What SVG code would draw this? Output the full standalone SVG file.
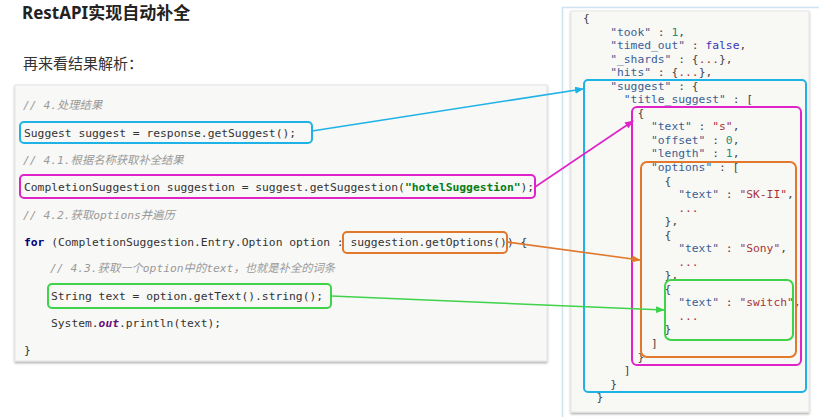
<svg xmlns="http://www.w3.org/2000/svg" width="819" height="417" viewBox="0 0 819 417">
<defs>
<marker id="ah-cyan" markerWidth="9" markerHeight="7" refX="8" refY="3.5" orient="auto" markerUnits="userSpaceOnUse"><path d="M0,0 L9,3.5 L0,7 z" fill="#1fb2e6"/></marker>
<marker id="ah-mag" markerWidth="9" markerHeight="7" refX="8" refY="3.5" orient="auto" markerUnits="userSpaceOnUse"><path d="M0,0 L9,3.5 L0,7 z" fill="#e023c9"/></marker>
<marker id="ah-org" markerWidth="9" markerHeight="7" refX="8" refY="3.5" orient="auto" markerUnits="userSpaceOnUse"><path d="M0,0 L9,3.5 L0,7 z" fill="#e2782c"/></marker>
<marker id="ah-grn" markerWidth="9" markerHeight="7" refX="8" refY="3.5" orient="auto" markerUnits="userSpaceOnUse"><path d="M0,0 L9,3.5 L0,7 z" fill="#3fd34a"/></marker>
<filter id="sh" x="-5%" y="-5%" width="110%" height="110%"><feDropShadow dx="0" dy="1.5" stdDeviation="1" flood-color="#000" flood-opacity="0.35"/></filter>
</defs>
<style>
.h1{font-family:"Noto Sans","Noto Sans CJK SC",sans-serif;font-weight:bold;font-size:17px;fill:#222}
.h2{font-family:"Noto Sans","Noto Sans CJK SC",sans-serif;font-size:15px;fill:#333}
.code{font-family:"DejaVu Sans Mono","Noto Sans CJK SC",monospace;font-size:11.3px;fill:#333}
.cm{fill:#9a9a9a;font-style:italic}
.kw{fill:#000080;font-weight:bold}
.st{fill:#067d17;font-weight:bold}
.out{fill:#660e7a;font-weight:bold;font-style:italic}
.k{fill:#3a5f94}
.n{fill:#1a8f7a}
.b{fill:#3535b5}
.s{fill:#a8343a}
.p{fill:#444}
.hl{fill:none;stroke-width:2}
.cy{stroke:#1fb2e6}
.mg{stroke:#e023c9}
.or{stroke:#e2782c}
.gr{stroke:#3fd34a}
.conn{fill:none;stroke-width:1.6}
</style>
<rect width="819" height="417" fill="#ffffff"/>
<g id="title">
<text class="h1" x="22" y="19">RestAPI实现自动补全</text>
<text class="h2" x="23" y="69">再来看结果解析：</text>
</g>
<g id="code-panel">
<rect x="15" y="85" width="532" height="276" fill="#f8f8f6" stroke="#e4e4e4" stroke-width="1" filter="url(#sh)"/>
<g class="code">
<text x="23" y="109" class="cm">// 4.处理结果</text>
<text x="24" y="137">Suggest suggest = response.getSuggest();</text>
<text x="23" y="164" class="cm">// 4.1.根据名称获取补全结果</text>
<text x="24" y="191">CompletionSuggestion suggestion = suggest.getSuggestion(<tspan class="st">"hotelSuggestion"</tspan>);</text>
<text x="23" y="219" class="cm">// 4.2.获取options并遍历</text>
<text x="24" y="246"><tspan class="kw">for</tspan> (CompletionSuggestion.Entry.Option option : suggestion.getOptions()) {</text>
<text x="50" y="272" class="cm">// 4.3.获取一个option中的text，也就是补全的词条</text>
<text x="51" y="300">String text = option.getText().string();</text>
<text x="51" y="327">System.<tspan class="out">out</tspan>.println(text);</text>
<text x="24" y="354">}</text>
</g>
</g>
<g id="hl-getSuggest"><rect class="hl cy" x="20" y="122" width="292" height="21" rx="4"/></g>
<g id="hl-getSuggestion"><rect class="hl mg" x="20" y="175" width="515" height="23" rx="4"/></g>
<g id="hl-getOptions"><rect class="hl or" x="343" y="232" width="164" height="21" rx="4"/></g>
<g id="hl-getText"><rect class="hl gr" x="48" y="284" width="283" height="24" rx="4"/></g>
<g id="json-panel">
<rect x="562.5" y="7.5" width="262" height="415" fill="#ffffff" stroke="#cfe2f1" stroke-width="1.5"/>
<rect x="571" y="11" width="238" height="401" fill="#f8f8f5" stroke="#e6e6e6" stroke-width="1" filter="url(#sh)"/>
<g class="code p">
<text x="583" y="22">{</text>
<text x="610.2" y="35.5"><tspan class="k">"took"</tspan> : <tspan class="n">1</tspan>,</text>
<text x="610.2" y="49.1"><tspan class="k">"timed_out"</tspan> : <tspan class="b">false</tspan>,</text>
<text x="610.2" y="62.6"><tspan class="k">"_shards"</tspan> : {<tspan class="s">...</tspan>},</text>
<text x="610.2" y="76.2"><tspan class="k">"hits"</tspan> : {<tspan class="s">...</tspan>},</text>
<text x="610.2" y="89.7"><tspan class="k">"suggest"</tspan> : {</text>
<text x="623.8" y="103.2"><tspan class="k">"title_suggest"</tspan> : [</text>
<text x="637.4" y="116.8">{</text>
<text x="651" y="130.3"><tspan class="k">"text"</tspan> : <tspan class="s">"s"</tspan>,</text>
<text x="651" y="143.9"><tspan class="k">"offset"</tspan> : <tspan class="n">0</tspan>,</text>
<text x="651" y="157.4"><tspan class="k">"length"</tspan> : <tspan class="n">1</tspan>,</text>
<text x="651" y="170.9"><tspan class="k">"options"</tspan> : [</text>
<text x="664.6" y="184.5">{</text>
<text x="678.2" y="198"><tspan class="k">"text"</tspan> : <tspan class="s">"SK-II"</tspan>,</text>
<text x="678.2" y="211.6" class="s">...</text>
<text x="664.6" y="225.1">},</text>
<text x="664.6" y="238.6">{</text>
<text x="678.2" y="252.2"><tspan class="k">"text"</tspan> : <tspan class="s">"Sony"</tspan>,</text>
<text x="678.2" y="265.7" class="s">...</text>
<text x="664.6" y="279.3">},</text>
<text x="664.6" y="292.8">{</text>
<text x="678.2" y="306.3"><tspan class="k">"text"</tspan> : <tspan class="s">"switch"</tspan>,</text>
<text x="678.2" y="319.9" class="s">...</text>
<text x="664.6" y="333.4">}</text>
<text x="651" y="347">]</text>
<text x="637.4" y="360.5">}</text>
<text x="623.8" y="374">]</text>
<text x="610.2" y="387.6">}</text>
<text x="596.6" y="401.1">}</text>
</g>
</g>
<g id="hl-suggest-json"><rect class="hl cy" x="584" y="80" width="222" height="312" rx="4"/></g>
<g id="hl-title-suggest-item"><rect class="hl mg" x="632" y="107" width="169" height="258" rx="5"/></g>
<g id="hl-options"><rect class="hl or" x="641" y="162" width="155" height="195" rx="6"/></g>
<g id="hl-switch"><rect class="hl gr" x="665" y="280" width="128" height="60" rx="6"/></g>
<g id="connectors">
<line class="conn cy" x1="312" y1="131" x2="583" y2="89" marker-end="url(#ah-cyan)"/>
<line class="conn mg" x1="535" y1="187" x2="633" y2="121" marker-end="url(#ah-mag)"/>
<line class="conn or" x1="507" y1="242" x2="640" y2="260" marker-end="url(#ah-org)"/>
<line class="conn gr" x1="331" y1="296" x2="664" y2="310" marker-end="url(#ah-grn)"/>
</g>
</svg>
